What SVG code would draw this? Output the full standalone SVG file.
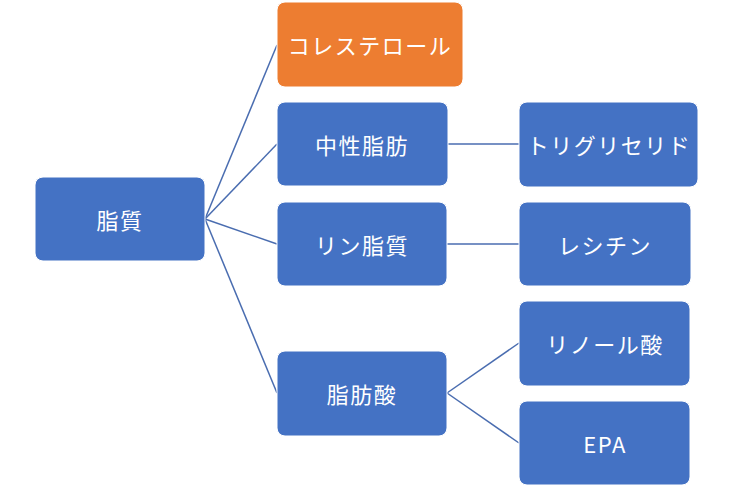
<svg xmlns="http://www.w3.org/2000/svg" width="733" height="489" viewBox="0 0 733 489">
<style>
.b{fill:#4472C4;stroke:#fff;stroke-width:1}
.o{fill:#ED7D31;stroke:#fff;stroke-width:1}
.t{fill:#fff;font-family:"Noto Sans CJK JP","Noto Sans",sans-serif;font-size:22px;letter-spacing:1.5px;text-anchor:middle;dominant-baseline:central}
.c{stroke:#4A6DB0;stroke-width:1.5;fill:none}
</style>
<rect width="733" height="489" fill="#fff"/>
<g id="connectors">
<line class="c" x1="205" y1="219" x2="277" y2="45"/>
<line class="c" x1="205" y1="219" x2="277" y2="144"/>
<line class="c" x1="205" y1="219" x2="277" y2="244"/>
<line class="c" x1="205" y1="219" x2="277" y2="393"/>
<line class="c" x1="447" y1="144" x2="519" y2="144"/>
<line class="c" x1="447" y1="244" x2="519" y2="244"/>
<line class="c" x1="447" y1="393" x2="519" y2="343"/>
<line class="c" x1="447" y1="393" x2="519" y2="443"/>
</g>
<g id="shishitsu"><rect class="b" x="35" y="177" width="170" height="84" rx="8"/><text class="t" x="120" y="219">脂質</text></g>
<g id="cholesterol"><rect class="o" x="277" y="2" width="186" height="85" rx="8"/><text class="t" x="370" y="44">コレステロール</text></g>
<g id="chuseishibo"><rect class="b" x="277" y="102" width="171" height="84" rx="8"/><text class="t" x="362" y="144">中性脂肪</text></g>
<g id="rinshishitsu"><rect class="b" x="277" y="202" width="170" height="84" rx="8"/><text class="t" x="362" y="244">リン脂質</text></g>
<g id="shibosan"><rect class="b" x="277" y="351" width="170" height="85" rx="8"/><text class="t" x="362" y="393">脂肪酸</text></g>
<g id="triglyceride"><rect class="b" x="519" y="102" width="179" height="85" rx="8"/><text class="t" x="609" y="144">トリグリセリド</text></g>
<g id="lecithin"><rect class="b" x="519" y="202" width="172" height="84" rx="8"/><text class="t" x="605" y="244">レシチン</text></g>
<g id="linoleic"><rect class="b" x="519" y="301" width="171" height="85" rx="8"/><text class="t" x="605" y="343">リノール酸</text></g>
<g id="epa"><rect class="b" x="519" y="401" width="171" height="84" rx="8"/><text class="t" x="605" y="443">EPA</text></g>
</svg>
